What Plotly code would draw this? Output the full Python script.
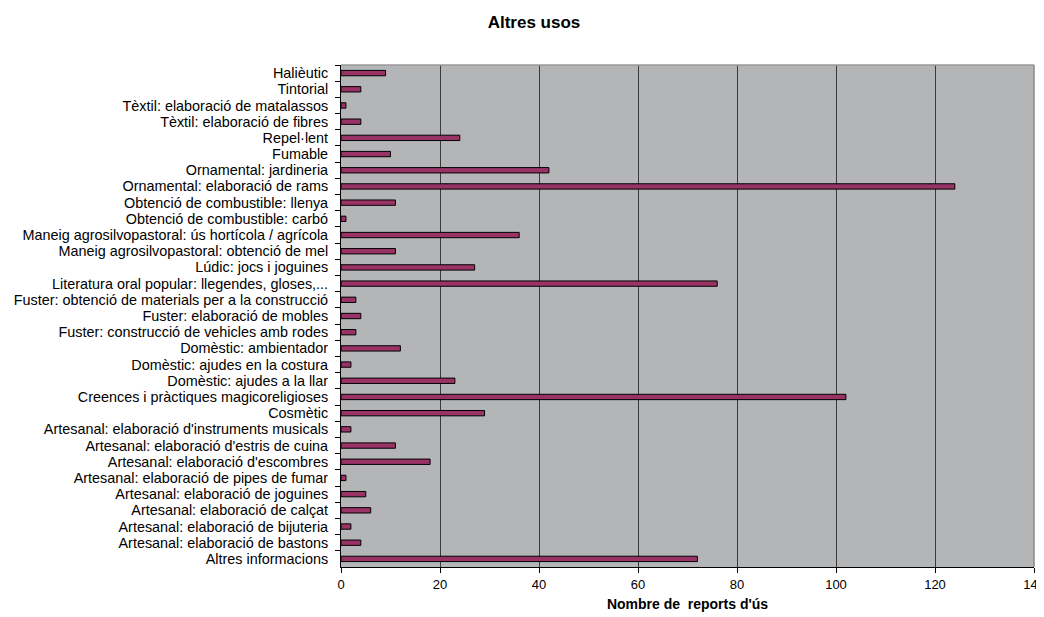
import plotly.graph_objects as go

categories = [
    "Halièutic",
    "Tintorial",
    "Tèxtil: elaboració de matalassos",
    "Tèxtil: elaboració de fibres",
    "Repel·lent",
    "Fumable",
    "Ornamental: jardineria",
    "Ornamental: elaboració de rams",
    "Obtenció de combustible: llenya",
    "Obtenció de combustible: carbó",
    "Maneig agrosilvopastoral: ús hortícola / agrícola",
    "Maneig agrosilvopastoral: obtenció de mel",
    "Lúdic: jocs i joguines",
    "Literatura oral popular: llegendes, gloses,...",
    "Fuster: obtenció de materials per a la construcció",
    "Fuster: elaboració de mobles",
    "Fuster: construcció de vehicles amb rodes",
    "Domèstic: ambientador",
    "Domèstic: ajudes en la costura",
    "Domèstic: ajudes a la llar",
    "Creences i pràctiques magicoreligioses",
    "Cosmètic",
    "Artesanal: elaboració d'instruments musicals",
    "Artesanal: elaboració d'estris de cuina",
    "Artesanal: elaboració d'escombres",
    "Artesanal: elaboració de pipes de fumar",
    "Artesanal: elaboració de joguines",
    "Artesanal: elaboració de calçat",
    "Artesanal: elaboració de bijuteria",
    "Artesanal: elaboració de bastons",
    "Altres informacions",
]

values = [9, 4, 1, 4, 24, 10, 42, 124, 11, 1, 36, 11, 27, 76, 3, 4, 3, 12, 2, 23,
          102, 29, 2, 11, 18, 1, 5, 6, 2, 4, 72]

x_ticks = [0, 20, 40, 60, 80, 100, 120, 140]

FONT = "Liberation Sans, Arial, sans-serif"

# the page adds an 8px body margin, so the figure is sized to fit the window
W, H = 1036, 609

fig = go.Figure()
fig.add_trace(go.Bar(
    x=values,
    y=categories,
    orientation="h",
    width=0.33,
    marker=dict(color="#993366", line=dict(color="#000000", width=1)),
    hoverinfo="x+y",
))

# light frame on the top and right of the plot area
fig.add_shape(type="line", xref="paper", yref="paper", x0=0, x1=1, y0=1, y1=1,
              line=dict(color="#9a9a9a", width=1.5))
fig.add_shape(type="line", xref="paper", yref="paper", x0=1, x1=1, y0=0, y1=1,
              line=dict(color="#8a8a8a", width=1.5))

fig.update_layout(
    width=W,
    height=H,
    margin=dict(l=333, r=10, t=57, b=50, autoexpand=False),
    paper_bgcolor="#ffffff",
    plot_bgcolor="#b4b5b7",
    showlegend=False,
    font=dict(family=FONT, size=12, color="#000000"),
    title=dict(
        text="<b>Altres usos</b>",
        x=526 / W,
        xref="container",
        xanchor="center",
        y=1 - 14 / H,
        yref="container",
        yanchor="middle",
        font=dict(family=FONT, size=17, color="#000000"),
    ),
    xaxis=dict(
        range=[0, 140],
        tickvals=x_ticks,
        ticktext=[str(v) for v in x_ticks],
        showgrid=True,
        gridcolor="#3a3a3a",
        gridwidth=1,
        zeroline=False,
        showline=True,
        linecolor="#000000",
        linewidth=1,
        ticks="outside",
        ticklen=5,
        tickcolor="#000000",
        tickfont=dict(family=FONT, size=13, color="#000000"),
        ticklabeloverflow="allow",
        automargin=False,
        title=dict(
            text="<b>Nombre de  reports d'ús</b>",
            font=dict(family=FONT, size=14, color="#000000"),
            standoff=8,
        ),
        fixedrange=True,
    ),
    yaxis=dict(
        categoryorder="array",
        categoryarray=categories,
        autorange="reversed",
        tickmode="linear",
        tick0=0,
        dtick=1,
        showgrid=False,
        zeroline=False,
        showline=True,
        linecolor="#000000",
        linewidth=1,
        ticks="outside",
        tickson="boundaries",
        ticklen=5,
        tickcolor="#000000",
        ticklabelstandoff=9,
        automargin=False,
        tickfont=dict(family=FONT, size=14.4, color="#000000"),
        fixedrange=True,
    ),
)

fig.write_html("out.html")
